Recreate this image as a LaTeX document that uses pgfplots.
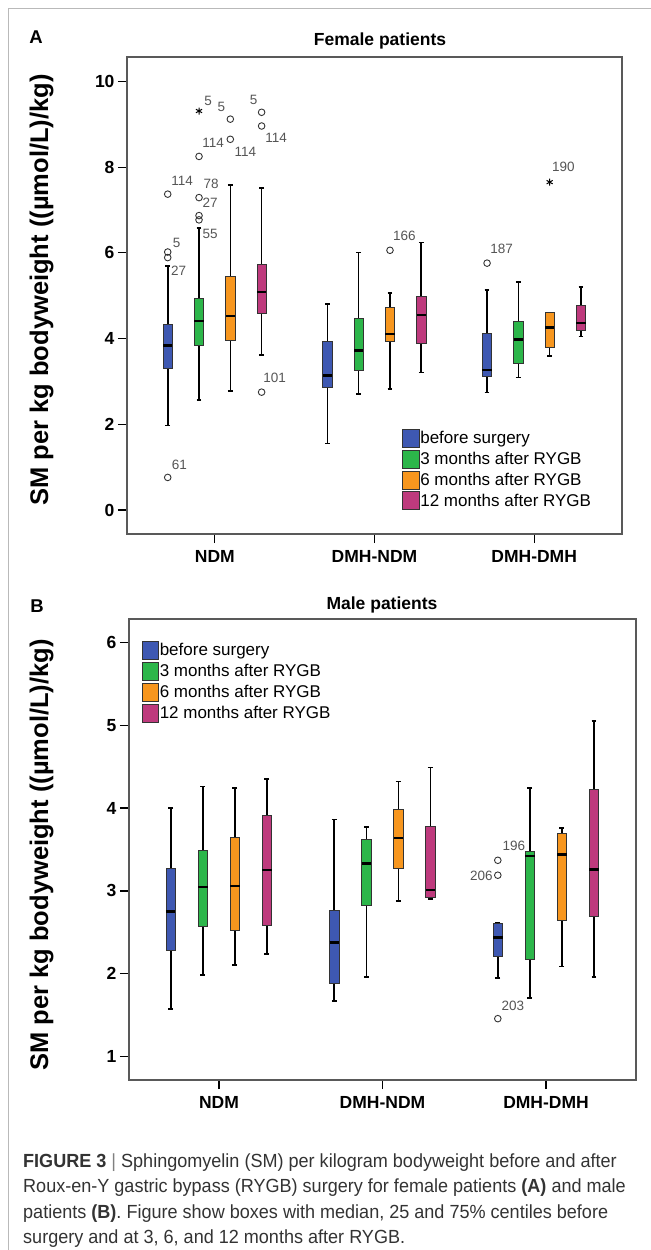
\documentclass[border=0pt]{standalone}
\usepackage{fontspec}
\setmainfont{Liberation Sans}
\newfontfamily\capfont[FakeStretch=0.95]{Liberation Sans}
\usepackage{pgfplots}
\pgfplotsset{compat=1.18}
\usepgfplotslibrary{statistics}

\definecolor{bblue}{HTML}{3E58B2}
\definecolor{bgreen}{HTML}{2CB64A}
\definecolor{borange}{HTML}{F7961E}
\definecolor{bmag}{HTML}{BE3A7D}
\definecolor{labgray}{HTML}{555555}
\definecolor{capgray}{HTML}{333333}

\newcommand\tickfont{\fontsize{17.5bp}{20bp}\selectfont\bfseries}
\newcommand\legfont{\fontsize{17bp}{20bp}\selectfont}
\newcommand\labfont{\fontsize{13.5bp}{15bp}\selectfont}

% one box: position, colour, lower whisker, q1, median, q3, upper whisker, outliers
\newcommand\bx[8]{\addplot[forget plot, fill=#2, boxplot prepared={draw position=#1,
  lower whisker=#3, lower quartile=#4, median=#5, upper quartile=#6, upper whisker=#7}]
  coordinates {#8};}
% outlier case number: x, y, dx, dy (bp), text
\newcommand\olab[5]{\node[font=\labfont, text=labgray, inner sep=0pt]
  at ([shift={(#3bp,#4bp)}]axis cs:#1,#2) {#5};}

\pgfplotsset{
  spss/.style={
    scale only axis, clip=false,
    axis line style={gray!70!black, line width=1.2bp},
    tick align=outside, tick pos=left,
    major tick length=9bp,
    tick style={black, line width=1.2bp},
    tick label style={font=\tickfont},
    xticklabel style={yshift=-4bp},
    /pgf/number format/assume math mode=true,
    xmin=-0.55, xmax=2.55,
    xtick={0,1,2}, xticklabels={NDM,DMH-NDM,DMH-DMH},
    boxplot/draw direction=y,
    boxplot/box extend=0.058,
    boxplot/whisker extend=0.03,
    boxplot/every box/.style={draw=gray!40!black, line width=0.8bp},
    boxplot/every whisker/.style={draw=black, line width=1.6bp},
    boxplot/every median/.style={draw=black, line width=2.4bp},
    mark=o, mark size=3.3bp,
    mark options={draw=gray!40!black, line width=0.9bp, fill=none},
    legend cell align=left,
    legend image code/.code={\path[##1] (0bp,-9bp) rectangle (16.5bp,9bp);},
    legend style={draw=none, fill=none, inner sep=0pt, row sep=2.5bp,
      font=\legfont, nodes={inner sep=1bp},
      /tikz/every even column/.append style={column sep=3bp}},
  }
}

\begin{document}
\begin{tikzpicture}
\useasboundingbox (0,0) rectangle (651bp,-1250bp);
\draw[gray!55, line width=1bp] (8bp,-1250bp) -- (8bp,-8bp) -- (651bp,-8bp);

% ---------------- panel A
\node[font=\fontsize{18.5bp}{22bp}\selectfont\bfseries, anchor=base] at (36bp,-43bp) {A};
\node[font=\tickfont, anchor=base] at (380bp,-45bp) {Female patients};
\node[font=\fontsize{25.5bp}{30bp}\selectfont\bfseries, rotate=90, anchor=base]
  at (48bp,-290bp) {SM per kg bodyweight ((µmol/L)/kg)};

\begin{axis}[spss, at={(127bp,-534bp)}, anchor=south west,
  width=495bp, height=477bp,
  ymin=-0.56, ymax=10.57, ytick={0,2,...,10},
  legend style={at={(0.556,0.221)}, anchor=north west}]
\bx{-0.295}{bblue}{1.97}{3.30}{3.84}{4.33}{5.70}{(0,7.37) (0,6.02) (0,5.89) (0,0.76)}
\bx{-0.099}{bgreen}{2.56}{3.84}{4.41}{4.94}{6.58}{(0,8.25) (0,7.29) (0,6.87) (0,6.77)}
\bx{0.097}{borange}{2.78}{3.95}{4.53}{5.44}{7.58}{(0,9.12) (0,8.65)}
\bx{0.293}{bmag}{3.61}{4.58}{5.08}{5.74}{7.51}{(0,9.28) (0,8.96) (0,2.75)}
\bx{0.705}{bblue}{1.55}{2.87}{3.14}{3.94}{4.81}{}
\bx{0.901}{bgreen}{2.71}{3.26}{3.72}{4.47}{6.01}{}
\bx{1.097}{borange}{2.83}{3.94}{4.11}{4.72}{5.06}{(0,6.06)}
\bx{1.293}{bmag}{3.21}{3.89}{4.55}{4.98}{6.24}{}
\bx{1.705}{bblue}{2.74}{3.11}{3.27}{4.12}{5.14}{(0,5.76)}
\bx{1.901}{bgreen}{3.09}{3.43}{3.98}{4.39}{5.32}{}
\bx{2.097}{borange}{3.60}{3.80}{4.26}{4.61}{4.61}{}
\bx{2.293}{bmag}{4.05}{4.20}{4.36}{4.78}{5.21}{}
\addplot[forget plot, only marks, mark=asterisk, mark size=3.5bp, mark options={draw=black, line width=1bp}]
  coordinates {(-0.099,9.31) (2.097,7.65)};

\olab{-0.295}{7.37}{14.5}{13.7}{114}
\olab{-0.295}{6.02}{9}{9}{5}
\olab{-0.295}{5.89}{11}{-13}{27}
\olab{-0.295}{0.76}{11.6}{12.3}{61}
\olab{-0.099}{9.31}{9}{10}{5}
\olab{-0.099}{8.25}{14}{13.3}{114}
\olab{-0.099}{7.29}{12}{14}{78}
\olab{-0.099}{7.29}{11}{-5}{27}
\olab{-0.099}{6.77}{11}{-14}{55}
\olab{0.097}{9.12}{-9}{12}{5}
\olab{0.097}{8.65}{15}{-12.7}{114}
\olab{0.293}{9.28}{-8}{12.7}{5}
\olab{0.293}{8.96}{14.5}{-12.3}{114}
\olab{0.293}{2.75}{13}{14.7}{101}
\olab{1.097}{6.06}{14.5}{14.3}{166}
\olab{1.705}{5.76}{14.5}{14.7}{187}
\olab{2.097}{7.65}{13.7}{15.7}{190}

\addlegendimage{fill=bblue, draw=gray!40!black}
\addlegendentry{before surgery}
\addlegendimage{fill=bgreen, draw=gray!40!black}
\addlegendentry{3 months after RYGB}
\addlegendimage{fill=borange, draw=gray!40!black}
\addlegendentry{6 months after RYGB}
\addlegendimage{fill=bmag, draw=gray!40!black}
\addlegendentry{12 months after RYGB}
\end{axis}

% ---------------- panel B
\node[font=\fontsize{18.5bp}{22bp}\selectfont\bfseries, anchor=base] at (37bp,-612bp) {B};
\node[font=\tickfont, anchor=base] at (382bp,-609bp) {Male patients};
\node[font=\fontsize{25.5bp}{30bp}\selectfont\bfseries, rotate=90, anchor=base]
  at (48bp,-855bp) {SM per kg bodyweight ((µmol/L)/kg)};

\begin{axis}[spss, at={(129bp,-1080bp)}, anchor=south west,
  width=507bp, height=461bp,
  ymin=0.72, ymax=6.28, ytick={1,2,...,6},
  legend style={at={(0.025,0.953)}, anchor=north west}]
\bx{-0.295}{bblue}{1.58}{2.28}{2.75}{3.27}{4.00}{}
\bx{-0.099}{bgreen}{1.99}{2.57}{3.05}{3.49}{4.26}{}
\bx{0.097}{borange}{2.11}{2.53}{3.06}{3.65}{4.24}{}
\bx{0.293}{bmag}{2.24}{2.59}{3.25}{3.91}{4.35}{}
\bx{0.705}{bblue}{1.67}{1.88}{2.38}{2.76}{3.86}{}
\bx{0.901}{bgreen}{1.96}{2.83}{3.33}{3.62}{3.77}{}
\bx{1.097}{borange}{2.88}{3.27}{3.64}{3.98}{4.32}{}
\bx{1.293}{bmag}{2.90}{2.92}{3.01}{3.78}{4.49}{}
\bx{1.705}{bblue}{1.95}{2.21}{2.44}{2.61}{2.62}{(0,3.37) (0,3.19) (0,1.46)}
\bx{1.901}{bgreen}{1.71}{2.17}{3.42}{3.48}{4.24}{}
\bx{2.097}{borange}{2.09}{2.65}{3.44}{3.69}{3.76}{}
\bx{2.293}{bmag}{1.96}{2.69}{3.26}{4.22}{5.05}{}

\olab{1.705}{3.37}{16}{14}{196}
\node[font=\labfont, text=labgray, inner sep=0pt, anchor=east]
  at ([shift={(-5bp,-1bp)}]axis cs:1.705,3.19) {206};
\olab{1.705}{1.46}{15}{13}{203}

\addlegendimage{fill=bblue, draw=gray!40!black}
\addlegendentry{before surgery}
\addlegendimage{fill=bgreen, draw=gray!40!black}
\addlegendentry{3 months after RYGB}
\addlegendimage{fill=borange, draw=gray!40!black}
\addlegendentry{6 months after RYGB}
\addlegendimage{fill=bmag, draw=gray!40!black}
\addlegendentry{12 months after RYGB}
\end{axis}

% ---------------- caption
\begin{scope}[every node/.style={anchor=base west, inner sep=0pt, text=capgray,
    font=\capfont\fontsize{19bp}{25bp}\selectfont}]
\node at (23bp,-1167bp) {\textbf{FIGURE 3} {\color{gray}|} Sphingomyelin (SM) per kilogram bodyweight before and after};
\node at (23bp,-1192.5bp) {Roux-en-Y gastric bypass (RYGB) surgery for female patients \textbf{(A)} and male};
\node at (23bp,-1218bp) {patients \textbf{(B)}. Figure show boxes with median, 25 and 75\% centiles before};
\node at (23bp,-1243.5bp) {surgery and at 3, 6, and 12 months after RYGB.};
\end{scope}
\end{tikzpicture}
\end{document}
